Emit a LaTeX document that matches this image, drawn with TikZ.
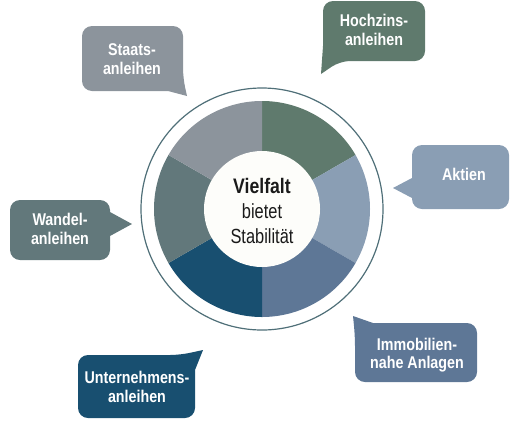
\documentclass[tikz,border=0pt]{standalone}
\usepackage{fontspec}
\newfontfamily\condB[FakeStretch=0.84]{Liberation Sans}
\newfontfamily\condR[FakeStretch=0.80]{Liberation Sans}
\definecolor{cHoch}{HTML}{5F7A6D}
\definecolor{cAktien}{HTML}{8A9EB4}
\definecolor{cImmo}{HTML}{5E7796}
\definecolor{cUnter}{HTML}{184F70}
\definecolor{cWandel}{HTML}{62787B}
\definecolor{cStaats}{HTML}{8C949C}
\definecolor{cRing}{HTML}{4F6F78}
\definecolor{cInner}{HTML}{FDFDFA}
\definecolor{cText}{HTML}{1A1A1A}
\tikzset{
  bubtext/.style={text=white, align=center, inner sep=0pt,
    font=\condB\bfseries\fontsize{17}{18.5}\selectfont},
  midtext/.style={text=cText, inner sep=0pt, anchor=base},
  bub/.style={rounded corners=10pt}
}
\begin{document}
\begin{tikzpicture}[x=1pt,y=-1pt]
\useasboundingbox (0,0) rectangle (518,421);
% pie
\begin{scope}[shift={(262,209)}, y=1pt]
  \coordinate (c) at (0,0);
  \fill[cHoch]   (c) -- (30:108)  arc[start angle=30,  end angle=90,  radius=108] -- cycle;
  \fill[cAktien] (c) -- (-30:108) arc[start angle=-30, end angle=30,  radius=108] -- cycle;
  \fill[cImmo]   (c) -- (-90:108) arc[start angle=-90, end angle=-30, radius=108] -- cycle;
  \fill[cUnter]  (c) -- (-150:108) arc[start angle=-150, end angle=-90, radius=108] -- cycle;
  \fill[cWandel] (c) -- (150:108) arc[start angle=150, end angle=210, radius=108] -- cycle;
  \fill[cStaats] (c) -- (90:108)  arc[start angle=90,  end angle=150, radius=108] -- cycle;
  \draw[cRing, line width=1.2pt] (c) circle[radius=121];
  \fill[cInner] (c) circle[radius=58];
\end{scope}
\node[midtext, font=\condB\bfseries\fontsize{21}{25}\selectfont] (viel) at (262,193) {Vielfalt};
\node[midtext, font=\condR\fontsize{20.5}{25}\selectfont] (bietet) at (262,218) {bietet};
\node[midtext, font=\condR\fontsize{20.5}{25}\selectfont] (stab) at (262,243) {Stabilität};
% Staats
\fill[cStaats, bub] (82,26) -- (183,26) -- (183,78) [sharp corners] -- (187,96) -- (168,91) [rounded corners=10pt] -- (82,91) -- cycle;
\node[bubtext] (staats) at (132,59) {Staats-\\anleihen};
% Hochzins
\fill[cHoch, bub] (425,1) -- (425,61) -- (340,61) [sharp corners] -- (321,74) -- (323,46) [rounded corners=10pt] -- (323,1) -- cycle;
\node[bubtext] (hoch) at (374,30) {Hochzins-\\anleihen};
% Aktien
\fill[cAktien, bub] (412,145) -- (509,145) -- (509,209) -- (412,209) [sharp corners] -- (412,198) -- (393,188) -- (412,178) [rounded corners=10pt] -- cycle;
\node[bubtext] (aktien) at (464,174) {Aktien};
% Wandel
\fill[cWandel, bub] (10,200) -- (110,200) [sharp corners] -- (110,212) -- (132,224) -- (110,236) [rounded corners=10pt] -- (110,260) -- (10,260) -- cycle;
\node[bubtext] (wandel) at (60,229) {Wandel-\\anleihen};
% Immobilien
\fill[cImmo, bub] (477,382) -- (355,382) -- (355,336) [sharp corners] -- (353,316) -- (373,323) [rounded corners=10pt] -- (477,323) -- cycle;
\node[bubtext] (immo) at (417,355) {Immobilien-\\nahe Anlagen};
% Unternehmens
\fill[cUnter, bub] (78,418) -- (78,355) -- (180,355) [sharp corners] -- (203,350) -- (195,370) [rounded corners=10pt] -- (195,418) -- cycle;
\node[bubtext] (unter) at (137,387) {Unternehmens-\\anleihen};
\end{tikzpicture}
\end{document}
